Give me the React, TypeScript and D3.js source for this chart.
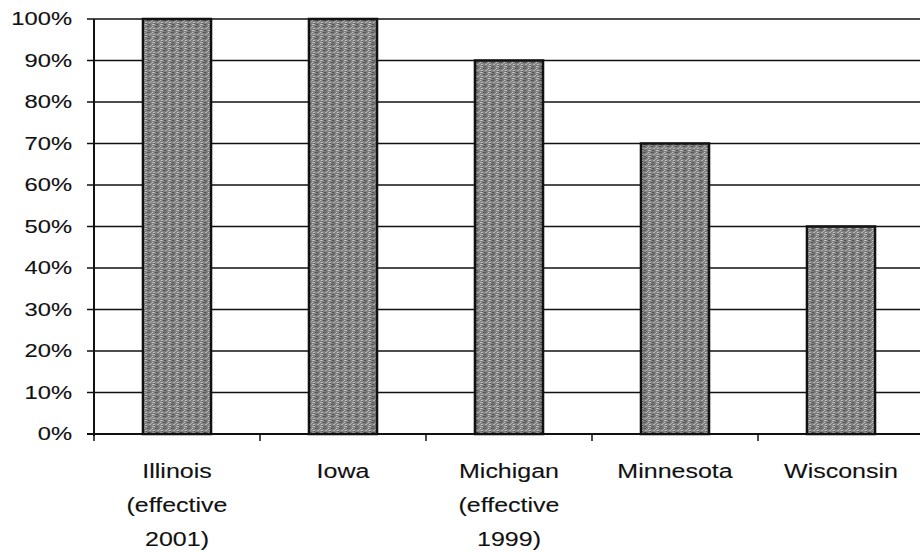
import React from "react";
import * as d3 from "d3";

const categories: string[][] = [
  ["Illinois", "(effective", "2001)"],
  ["Iowa"],
  ["Michigan", "(effective", "1999)"],
  ["Minnesota"],
  ["Wisconsin"],
];
const values: number[] = [1.0, 1.0, 0.9, 0.7, 0.5];
const yTicks: number[] = [0, 0.1, 0.2, 0.3, 0.4, 0.5, 0.6, 0.7, 0.8, 0.9, 1.0];

const W = 920;
const H = 552;
const left = 94;
const right = 924;
const top = 19;
const bottom = 434;

export default function App() {
  const x = d3
    .scaleBand<number>()
    .domain(categories.map((_, i) => i))
    .range([left, right])
    .paddingInner(0.59)
    .paddingOuter(0.295);
  const step = x.step();
  const y = d3.scaleLinear().domain([0, 1]).range([bottom, top]);
  const fmt = d3.format(".0%");
  const font = "'Liberation Sans', Arial, sans-serif";

  return (
    <svg
      width={W}
      height={H}
      style={{ position: "absolute", left: 0, top: 0, background: "#fff" }}
    >
      <defs>
        <pattern id="tex" width="8" height="6" patternUnits="userSpaceOnUse">
          <rect width="8" height="6" fill="#828282" />
          <rect x="0" y="0" width="3" height="1" fill="#bcbcbc" />
          <rect x="4" y="0" width="2" height="1" fill="#505050" />
          <rect x="3" y="2" width="3" height="1" fill="#555" />
          <rect x="0" y="2" width="1" height="1" fill="#c8c8c8" />
          <rect x="1" y="4" width="2" height="1" fill="#c0c0c0" />
          <rect x="5" y="4" width="2" height="1" fill="#a8a8a8" />
          <rect x="6" y="1" width="1" height="1" fill="#606060" />
          <rect x="2" y="5" width="1" height="1" fill="#4a4a4a" />
          <rect x="7" y="3" width="1" height="1" fill="#b0b0b0" />
        </pattern>
      </defs>
      {/* gridlines */}
      {yTicks.map((t) => (
        <line
          key={"g" + t}
          x1={left - 7}
          x2={W}
          y1={y(t)}
          y2={y(t)}
          stroke="#111"
          strokeWidth={t === 0 ? 2 : 1.4}
        />
      ))}
      {/* y tick labels */}
      {yTicks.map((t) => (
        <text
          key={"l" + t}
          transform={`translate(72,${y(t)}) scale(1.32,1)`}
          x={0}
          y={0}
          dy="0.35em"
          textAnchor="end"
          fontFamily={font}
          fontSize={18}
          fill="#111"
          stroke="#111"
          strokeWidth={0.12}
        >
          {fmt(t)}
        </text>
      ))}
      {/* bars */}
      {values.map((v, i) => (
        <rect
          key={"b" + i}
          x={x(i)!}
          y={y(v)}
          width={x.bandwidth()}
          height={bottom - y(v)}
          fill="url(#tex)"
          stroke="#111"
          strokeWidth={2.5}
        />
      ))}
      {/* y axis */}
      <line x1={left} x2={left} y1={top} y2={bottom + 2} stroke="#111" strokeWidth={2} />
      {/* x ticks */}
      {categories.map((_, i) => (
        <line
          key={"t" + i}
          x1={x(i)! - (step - x.bandwidth()) / 2}
          x2={x(i)! - (step - x.bandwidth()) / 2}
          y1={bottom}
          y2={bottom + 7}
          stroke="#111"
          strokeWidth={1.5}
        />
      ))}
      {/* x labels */}
      {categories.map((lines, i) =>
        lines.map((ln, j) => (
          <text
            key={"c" + i + "-" + j}
            transform={`translate(${x(i)! + x.bandwidth() / 2},${471 + j * 34}) scale(1.25,1)`}
            x={0}
            y={0}
            dy="0.35em"
            textAnchor="middle"
            fontFamily={font}
            fontSize={20}
            fill="#111"
            stroke="#111"
            strokeWidth={0.12}
          >
            {ln}
          </text>
        ))
      )}
    </svg>
  );
}
